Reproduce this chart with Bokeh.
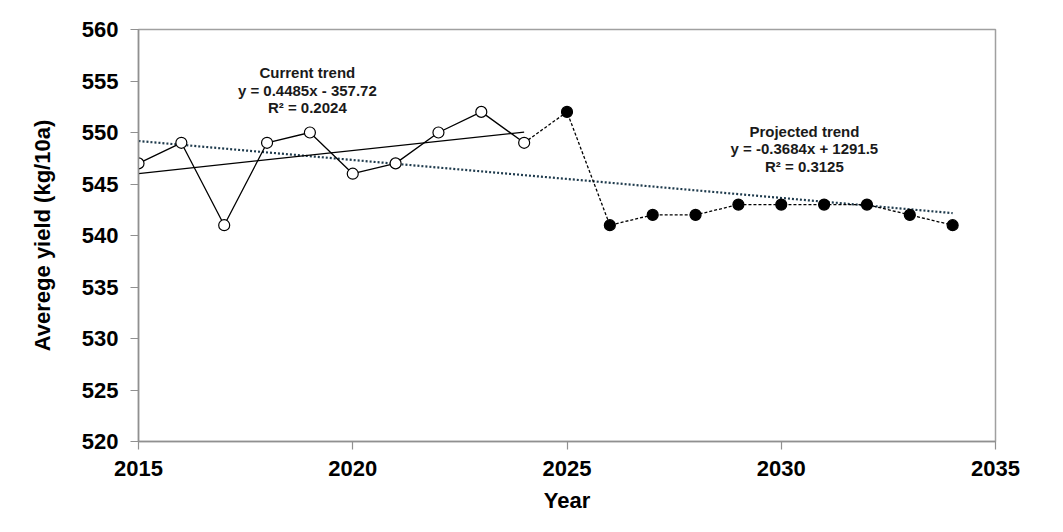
from bokeh.plotting import figure
from bokeh.models import Range1d, Label, FixedTicker
from bokeh.embed import file_html
from bokeh.resources import INLINE

# Data
current_years = [2015, 2016, 2017, 2018, 2019, 2020, 2021, 2022, 2023, 2024]
current_yield = [547, 549, 541, 549, 550, 546, 547, 550, 552, 549]
proj_years = [2025, 2026, 2027, 2028, 2029, 2030, 2031, 2032, 2033, 2034]
proj_yield = [552, 541, 542, 542, 543, 543, 543, 543, 542, 541]

current_trend = {"slope": 0.4485, "intercept": -357.72, "r2": 0.2024}
proj_trend = {"slope": -0.3684, "intercept": 1291.5, "r2": 0.3125}

x_ticks = [2015, 2020, 2025, 2030, 2035]
y_ticks = [520, 525, 530, 535, 540, 545, 550, 555, 560]

FONT = "Liberation Sans"

p = figure(width=1040, height=515, output_backend="svg", toolbar_location=None,
           x_range=Range1d(2015, 2035), y_range=Range1d(520, 560),
           min_border_left=138, min_border_right=45, min_border_top=29,
           min_border_bottom=72)
p.xgrid.visible = False
p.ygrid.visible = False
p.outline_line_color = "#a0a0a0"
p.outline_line_width = 1.5
p.background_fill_color = "white"
p.border_fill_color = "white"

for ax in (p.xaxis[0], p.yaxis[0]):
    ax.axis_line_color = "#909090"
    ax.axis_line_width = 1.5
    ax.major_tick_line_color = "#909090"
    ax.major_tick_line_width = 1.2
    ax.major_tick_out = 8
    ax.major_tick_in = 0
    ax.minor_tick_line_color = None
    ax.major_label_text_font = FONT
    ax.major_label_text_font_style = "bold"
    ax.major_label_text_font_size = "22px"
    ax.major_label_text_color = "black"
    ax.axis_label_text_font = FONT
    ax.axis_label_text_font_style = "bold"
    ax.axis_label_text_font_size = "22px"
    ax.axis_label_text_color = "black"

p.xaxis[0].ticker = FixedTicker(ticks=x_ticks)
p.yaxis[0].ticker = FixedTicker(ticks=y_ticks)
p.xaxis[0].axis_label = "Year"
p.yaxis[0].axis_label = "Averege yield (kg/10a)"
p.xaxis[0].major_label_standoff = 11
p.yaxis[0].major_label_standoff = 12
p.xaxis[0].axis_label_standoff = 9
p.yaxis[0].axis_label_standoff = 24

# Projected trend (dotted), spanning all years
all_years = current_years + proj_years
tx = [all_years[0], all_years[-1]]
p.line(tx, [proj_trend["slope"] * x + proj_trend["intercept"] for x in tx],
       line_color="#1F3B4D", line_width=2.2, line_dash="2 2")

# Current trend (solid)
cx = [current_years[0], current_years[-1]]
p.line(cx, [current_trend["slope"] * x + current_trend["intercept"] for x in cx],
       line_color="black", line_width=1.3)

# Data lines
p.line(current_years, current_yield, line_color="black", line_width=1.3)
p.line([current_years[-1]] + proj_years, [current_yield[-1]] + proj_yield,
       line_color="black", line_width=1.3, line_dash="3 2")

p.scatter(current_years, current_yield, size=11, marker="circle",
          fill_color="white", line_color="black", line_width=1.2)
p.scatter(proj_years, proj_yield, size=11, marker="circle",
          fill_color="black", line_color="black", line_width=1.2)

def add_block(x, y_top, lines):
    for i, t in enumerate(lines):
        p.add_layout(Label(x=x, y=y_top, x_units="data", y_units="data",
                           y_offset=-17.5 * i, text=t, text_align="center",
                           text_baseline="middle", text_font=FONT,
                           text_font_style="bold", text_font_size="15px",
                           text_color="#1a1a1a"))

add_block(2018.94, 555.8, ["Current trend",
                           f"y = {current_trend['slope']}x - {abs(current_trend['intercept'])}",
                           f"R\u00b2 = {current_trend['r2']}"])
add_block(2030.54, 550.1, ["Projected trend",
                           f"y = {proj_trend['slope']}x + {proj_trend['intercept']}",
                           f"R\u00b2 = {proj_trend['r2']}"])

open("out.html", "w").write(file_html(p, INLINE))
